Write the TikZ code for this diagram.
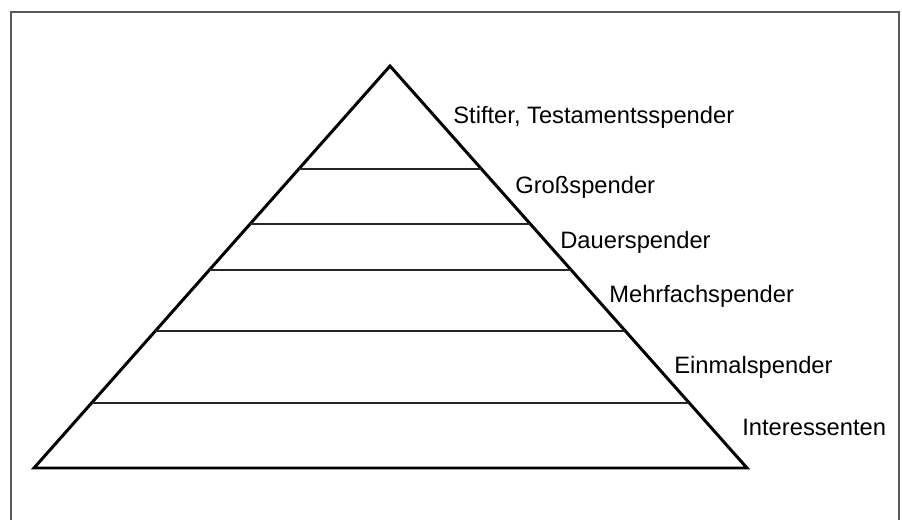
\documentclass[tikz,border=0pt]{standalone}
\usepackage{fontspec}
\setmainfont{Liberation Sans}
\usetikzlibrary{calc}

\begin{document}
\begin{tikzpicture}[x=0.02cm,y=-0.02cm,
	frame/.style={draw=black!65, line width=0.8pt},
	pyramid/.style={draw=black, line width=1.7pt, line join=miter},
	level/.style={draw=black!85, line width=0.8pt},
	tier/.style={anchor=base west, inner sep=0pt, font=\fontsize{13.5}{16}\selectfont}]

\useasboundingbox (0,0) rectangle (902,520);

% Outer frame
\draw[frame] (11,520) -- (11,12) -- (899,12) -- (899,520);

% Pyramid corners
\coordinate (apex) at (390,66);
\coordinate (baseL) at (34,468);
\coordinate (baseR) at (747,468);
\draw[pyramid] (apex) -- (baseL) -- (baseR) -- cycle;

% Division lines
\foreach \y in {169,224,270,331,403} {
	\draw[level] ($(apex)!{(\y-66)/402}!(baseL)$) -- ($(apex)!{(\y-66)/402}!(baseR)$);
}

% Labels
\node[tier] (stifter) at (453,124) {Stifter, Testamentsspender};
\node[tier] (gross) at (515,194) {Großspender};
\node[tier] (dauer) at (560,248) {Dauerspender};
\node[tier] (mehr) at (609,302) {Mehrfachspender};
\node[tier] (einmal) at (674,373) {Einmalspender};
\node[tier] (inter) at (742,435) {Interessenten};

\end{tikzpicture}
\end{document}
